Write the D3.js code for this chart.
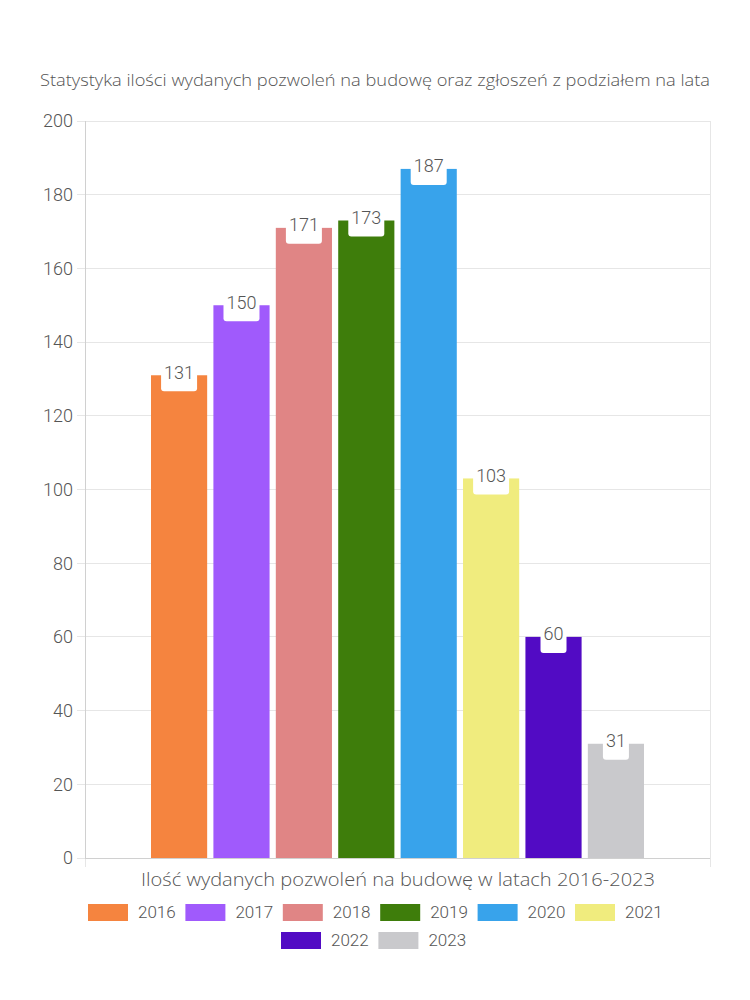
<!DOCTYPE html>
<html><head><meta charset="utf-8">
<script src="https://cdn.jsdelivr.net/npm/d3@7"></script>
<style>body{margin:0;background:#fff}</style>
</head><body><svg id="c" width="750" height="1000"></svg>
<script>
const years = ["2016","2017","2018","2019","2020","2021","2022","2023"];
const values = [131,150,171,173,187,103,60,31];
const colors = ["#F5843F","#A05AFC","#E08585","#3E7D0B","#38A3EB","#F0EC7E","#520BC4","#C9C9CC"];
const yTicks = [0,20,40,60,80,100,120,140,160,180,200];
const title = "Statystyka ilości wydanych pozwoleń na budowę oraz zgłoszeń z podziałem na lata";
const xTitle = "Ilość wydanych pozwoleń na budowę w latach 2016-2023";

const svg = d3.select("#c");
const L=85, R=710, T=121, B=858;
const txtFont = "'Open Sans', Lato, sans-serif";
const numFont = "Roboto, sans-serif";

const y = d3.scaleLinear().domain([0,200]).range([B,T]);
const x = d3.scaleBand().domain(years).range([151,644]).paddingInner(0.1);

// grid
svg.append("g").selectAll("line").data(yTicks).join("line")
  .attr("x1",77).attr("x2",R).attr("y1",d=>y(d)).attr("y2",d=>y(d))
  .attr("stroke","#e6e6e6").attr("stroke-width",1).attr("shape-rendering","crispEdges");
// axis lines
svg.append("line").attr("x1",L).attr("x2",L).attr("y1",T).attr("y2",B)
  .attr("stroke","#d0d0d0").attr("shape-rendering","crispEdges");
svg.append("line").attr("x1",R).attr("x2",R).attr("y1",T).attr("y2",867)
  .attr("stroke","#e6e6e6").attr("shape-rendering","crispEdges");
svg.append("line").attr("x1",L).attr("x2",L).attr("y1",B).attr("y2",867)
  .attr("stroke","#e6e6e6").attr("shape-rendering","crispEdges");
svg.append("line").attr("x1",L).attr("x2",R).attr("y1",B).attr("y2",B)
  .attr("stroke","#d0d0d0").attr("shape-rendering","crispEdges");

// y labels
svg.append("g").selectAll("text").data(yTicks).join("text")
  .attr("x",73).attr("y",d=>y(d)).attr("dy","0.35em").attr("text-anchor","end")
  .attr("font-family",numFont).attr("font-weight",300).attr("font-size",18).attr("fill","#555").text(d=>d);

// bars
svg.append("g").selectAll("rect").data(values).join("rect")
  .attr("x",(d,i)=>x(years[i])).attr("width",x.bandwidth())
  .attr("y",d=>y(d)).attr("height",d=>B-y(d))
  .attr("fill",(d,i)=>colors[i]);

// labels
const lg = svg.append("g");
values.forEach((v,i)=>{
  const cx = x(years[i])+x.bandwidth()/2, ty=y(v);
  const w = String(v).length*10+6;
  lg.append("rect").attr("x",cx-w/2).attr("y",ty-18).attr("width",w).attr("height",34)
    .attr("rx",3).attr("fill","#fff");
  lg.append("text").attr("x",cx).attr("y",ty-3).attr("dy","0.35em").attr("text-anchor","middle")
    .attr("font-family",numFont).attr("font-weight",300).attr("font-size",18).attr("fill","#555").text(v);
});

// titles
svg.append("text").attr("x",375).attr("y",86).attr("text-anchor","middle")
  .attr("font-family",txtFont).attr("font-weight",300).attr("font-size",16).attr("fill","#555")
  .attr("textLength",670).attr("lengthAdjust","spacingAndGlyphs").text(title);
svg.append("text").attr("x",398).attr("y",886).attr("text-anchor","middle")
  .attr("font-family",txtFont).attr("font-weight",300).attr("font-size",18).attr("fill","#555")
  .attr("textLength",514).attr("lengthAdjust","spacingAndGlyphs").text(xTitle);

// legend
const rows = [[0,1,2,3,4,5],[6,7]];
const starts = [88,281];
rows.forEach((r,ri)=>{
  r.forEach((idx,k)=>{
    const gx = starts[ri]+k*97.4, gy = ri===0?912:940;
    svg.append("rect").attr("x",gx).attr("y",gy-8).attr("width",40).attr("height",17)
      .attr("fill",colors[idx]);
    svg.append("text").attr("x",gx+50).attr("y",gy).attr("dy","0.35em")
      .attr("font-family",numFont).attr("font-weight",300).attr("font-size",17).attr("fill","#555").text(years[idx]);
  });
});
</script></body></html>
